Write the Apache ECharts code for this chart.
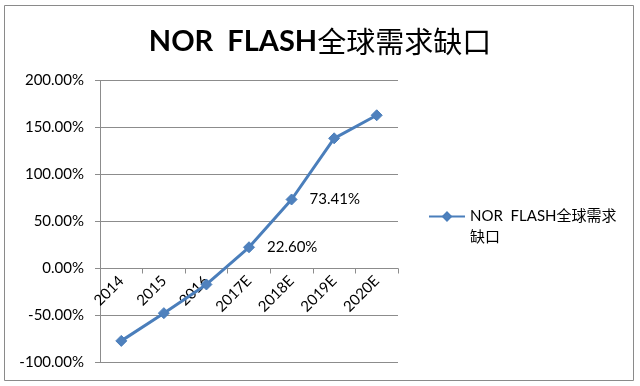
<!DOCTYPE html>
<html>
<head>
<meta charset="utf-8">
<script src="https://cdn.jsdelivr.net/npm/echarts@6/dist/echarts.min.js"></script>
<style>
html,body{margin:0;padding:0;background:#fff;}
#main{width:640px;height:386px;}
</style>
</head>
<body>
<div id="main"></div>
<script>
var titleText = 'NOR  FLASH全球需求缺口';
var seriesName = 'NOR  FLASH全球需求缺口';
var categories = ['2014', '2015', '2016', '2017E', '2018E', '2019E', '2020E'];
var values = [-77, -47.5, -17, 22.60, 73.41, 138.5, 163];
var labeledCategories = ['2017E', '2018E'];
var yTicks = [-100, -50, 0, 50, 100, 150, 200];

var FONT = "Lato, 'Noto Sans CJK SC', sans-serif";
var BLUE = '#4A7EBB';
var GRAY = '#8c8c8c';

var GRID_TOP = 80.5, GRID_BOTTOM = 23.5, CH = 386;
var plotH = CH - GRID_TOP - GRID_BOTTOM;
var yMin = yTicks[0], yMax = yTicks[yTicks.length - 1];
var zeroOffset = -plotH * (0 - yMin) / (yMax - yMin);

var chart = echarts.init(document.getElementById('main'), null, {renderer: 'canvas'});

var seriesData = values.map(function (v, i) {
  var show = labeledCategories.indexOf(categories[i]) >= 0;
  return {value: v, label: {show: show}};
});

chart.setOption({
  backgroundColor: '#ffffff',
  animation: false,
  title: {
    text: '{a|NOR  FLASH}{b|全球需求缺口}',
    left: 'center',
    top: 22,
    textStyle: {
      rich: {
        a: {fontFamily: FONT, fontSize: 29, fontWeight: 'bold', color: '#000'},
        b: {fontFamily: "'Noto Sans CJK SC', sans-serif", fontSize: 29, fontWeight: 'normal', color: '#000'}
      }
    }
  },
  graphic: [{
    type: 'rect',
    shape: {x: 4.5, y: 5.5, width: 629, height: 375},
    style: {fill: 'none', stroke: '#8a8a8a', lineWidth: 1},
    silent: true,
    z: -1
  }],
  legend: {
    left: 423,
    top: 180,
    itemWidth: 36,
    itemHeight: 10,
    data: [seriesName],
    formatter: function (name) {
      return '\nNOR  FLASH全球需求\n缺口';
    },
    textStyle: {
      fontFamily: FONT,
      fontSize: 15,
      lineHeight: 21,
      color: '#000'
    }
  },
  grid: {left: 100, right: 242, top: GRID_TOP, bottom: GRID_BOTTOM, containLabel: false, outerBoundsMode: 'none'},
  xAxis: {
    type: 'category',
    data: categories,
    boundaryGap: true,
    position: 'bottom',
    offset: zeroOffset,
    axisLine: {onZero: false, lineStyle: {color: GRAY, width: 1}},
    axisTick: {show: true, length: 5, inside: false, lineStyle: {color: GRAY}},
    axisLabel: {
      rotate: 45,
      margin: 10,
      fontFamily: FONT,
      fontSize: 15,
      color: '#000'
    },
    splitLine: {show: false}
  },
  yAxis: {
    type: 'value',
    min: yMin,
    max: yMax,
    interval: 50,
    axisLine: {show: true, lineStyle: {color: GRAY, width: 1}},
    axisTick: {show: true, length: 5, lineStyle: {color: GRAY}},
    axisLabel: {
      margin: 16,
      fontFamily: FONT,
      fontSize: 15,
      color: '#000',
      formatter: function (v) { return v.toFixed(2) + '%'; }
    },
    splitLine: {show: true, lineStyle: {color: GRAY, width: 1}}
  },
  series: [{
    name: seriesName,
    type: 'line',
    data: seriesData,
    symbol: 'diamond',
    symbolSize: 11,
    z: 5,
    lineStyle: {color: BLUE, width: 3},
    itemStyle: {color: '#4F81BD', borderColor: '#4A7EBB', borderWidth: 1},
    label: {
      position: 'right',
      distance: 12,
      fontFamily: FONT,
      fontSize: 15,
      color: '#000',
      formatter: function (p) { return p.value.toFixed(2) + '%'; }
    }
  }]
});
</script>
</body>
</html>
